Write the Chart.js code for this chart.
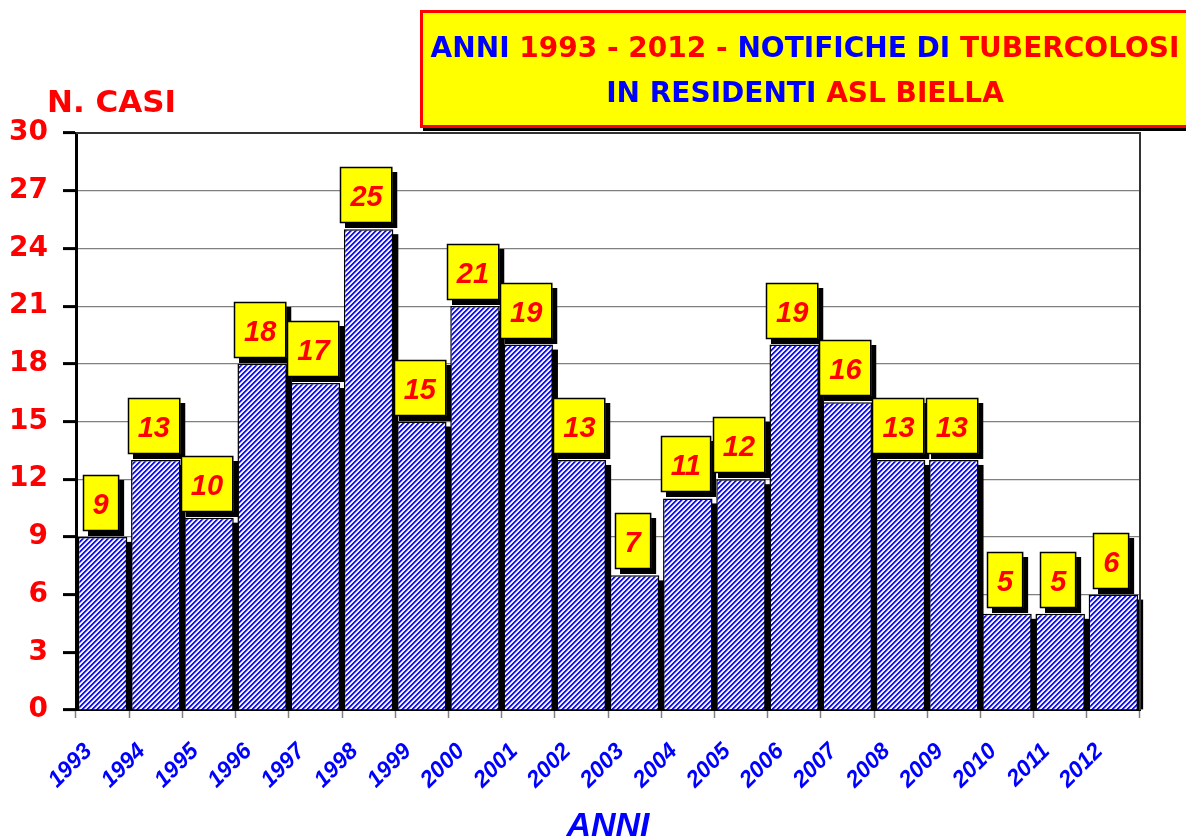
<!DOCTYPE html>
<html>
<head>
<meta charset="utf-8">
<title>Notifiche di tubercolosi ASL Biella</title>
<script src="https://cdn.jsdelivr.net/npm/chart.js@4/dist/chart.umd.min.js"></script>
<style>
  html, body { margin: 0; padding: 0; background: #fff; }
  canvas { display: block; }
</style>
</head>
<body>
<canvas id="tbcChart" width="1186" height="840"></canvas>
<script>
// Notified cases per year
const anni = ['1993', '1994', '1995', '1996', '1997', '1998', '1999', '2000', '2001', '2002',
              '2003', '2004', '2005', '2006', '2007', '2008', '2009', '2010', '2011', '2012'];
const casi = [9, 13, 10, 18, 17, 25, 15, 21, 19, 13, 7, 11, 12, 19, 16, 13, 13, 5, 5, 6];
const yMax = 30;
const yStep = 3;

// Title lines, split in coloured pieces
const titleLine1 = [['ANNI ', '#0000ff'], ['1993 - 2012 - ', '#ff0000'], ['NOTIFICHE DI ', '#0000ff'], ['TUBERCOLOSI', '#ff0000']];
const titleLine2 = [['IN RESIDENTI ', '#0000ff'], ['ASL BIELLA', '#ff0000']];

const RED = '#ff0000';
const BLUE = '#0000ff';

// Diagonal blue hatch used to fill the bars
function makeHatch(ctx) {
  const size = 5;
  const c = document.createElement('canvas');
  c.width = size; c.height = size;
  const g = c.getContext('2d');
  const img = g.createImageData(size, size);
  const shades = [[20, 20, 235], [20, 20, 235], [140, 140, 255], [255, 255, 255], [225, 225, 255]];
  for (let y = 0; y < size; y++) {
    for (let x = 0; x < size; x++) {
      const s = shades[(x + y) % size];
      const i = (y * size + x) * 4;
      img.data[i] = s[0]; img.data[i + 1] = s[1]; img.data[i + 2] = s[2]; img.data[i + 3] = 255;
    }
  }
  g.putImageData(img, 0, 0);
  return ctx.createPattern(c, 'repeat');
}

// Black drop shadow behind every bar
const barShadows = {
  id: 'barShadows',
  beforeDatasetsDraw(chart) {
    const ctx = chart.ctx;
    ctx.save();
    ctx.fillStyle = '#000';
    chart.getDatasetMeta(0).data.forEach(bar => {
      const left = bar.x - bar.width / 2;
      ctx.fillRect(left + 5, bar.y + 5, bar.width, bar.base - bar.y - 5);
    });
    ctx.restore();
  }
};

// Yellow value boxes above the bars
const valueBoxes = {
  id: 'valueBoxes',
  afterDatasetsDraw(chart) {
    const ctx = chart.ctx;
    const vals = chart.data.datasets[0].data;
    ctx.save();
    ctx.font = 'italic bold 29px "Liberation Sans", Arial, sans-serif';
    ctx.textAlign = 'center';
    ctx.textBaseline = 'alphabetic';
    chart.getDatasetMeta(0).data.forEach((bar, i) => {
      const txt = String(vals[i]);
      const w = ctx.measureText(txt).width + 20;
      const h = 56;
      const cx = bar.x - 2;
      const bottom = bar.y - 6;
      const left = Math.round(cx - w / 2);
      const top = Math.round(bottom - h);
      ctx.fillStyle = '#000';
      ctx.fillRect(left + 5, top + 5, w, h);
      ctx.fillStyle = '#ffff00';
      ctx.fillRect(left, top, w, h);
      ctx.strokeStyle = '#000';
      ctx.lineWidth = 1.5;
      ctx.strokeRect(left + 0.5, top + 0.5, w - 1, h - 1);
      ctx.fillStyle = RED;
      ctx.fillText(txt, cx, top + h / 2 + 10.5);
    });
    ctx.restore();
  }
};

function drawPieces(ctx, pieces, cx, y) {
  const total = pieces.reduce((s, p) => s + ctx.measureText(p[0]).width, 0);
  let x = cx - total / 2;
  ctx.textAlign = 'left';
  pieces.forEach(([txt, col]) => {
    ctx.fillStyle = col;
    ctx.fillText(txt, x, y);
    x += ctx.measureText(txt).width;
  });
}

// Title box, axis titles and plot frame
const decorations = {
  id: 'decorations',
  afterDraw(chart) {
    const ctx = chart.ctx;
    const area = chart.chartArea;
    ctx.save();

    // frame on top and right of the plot
    ctx.strokeStyle = '#333';
    ctx.lineWidth = 2;
    ctx.beginPath();
    ctx.moveTo(area.left, area.top);
    ctx.lineTo(area.right, area.top);
    ctx.lineTo(area.right, area.bottom);
    ctx.stroke();

    // title box
    const bx = 420, by = 10, bw = 775, bh = 118;
    ctx.fillStyle = '#000';
    ctx.fillRect(bx + 3, by + 3, bw, bh);
    ctx.fillStyle = '#ffff00';
    ctx.fillRect(bx, by, bw, bh);
    ctx.strokeStyle = RED;
    ctx.lineWidth = 3;
    ctx.strokeRect(bx + 1.5, by + 1.5, bw - 3, bh - 3);

    ctx.font = 'bold 28px "DejaVu Sans", sans-serif';
    ctx.textBaseline = 'alphabetic';
    drawPieces(ctx, titleLine1, 805, 57);
    drawPieces(ctx, titleLine2, 805, 102);

    // y axis title
    ctx.font = 'bold 31px "DejaVu Sans", sans-serif';
    ctx.fillStyle = RED;
    ctx.textAlign = 'left';
    ctx.fillText('N. CASI', 47, 112);

    // x axis title
    ctx.font = 'italic bold 34px "Liberation Sans", Arial, sans-serif';
    ctx.fillStyle = BLUE;
    ctx.textAlign = 'center';
    ctx.fillText('ANNI', (area.left + area.right) / 2, 836);

    ctx.restore();
  }
};

const canvas = document.getElementById('tbcChart');
const ctx = canvas.getContext('2d');

new Chart(ctx, {
  type: 'bar',
  data: {
    labels: anni,
    datasets: [{
      data: casi,
      backgroundColor: makeHatch(ctx),
      borderColor: '#000',
      borderWidth: 1.5,
      barPercentage: 0.93,
      categoryPercentage: 1.0
    }]
  },
  options: {
    responsive: false,
    animation: false,
    devicePixelRatio: 1,
    layout: { padding: { top: 133, right: 46, left: 0, bottom: 0 } },
    plugins: {
      legend: { display: false },
      tooltip: { enabled: false }
    },
    scales: {
      x: {
        afterFit(scale) { scale.height = 130; },
        grid: {
          display: true,
          drawOnChartArea: false,
          drawTicks: true,
          tickLength: 8,
          tickColor: '#808080',
          tickWidth: 1.5,
          offset: true
        },
        border: { display: true, color: '#000', width: 2 },
        ticks: {
          autoSkip: false,
          minRotation: 45,
          maxRotation: 45,
          color: BLUE,
          padding: 20,
          labelOffset: -14,
          font: { family: '"Liberation Sans", Arial, sans-serif', size: 23, style: 'italic', weight: 'bold' }
        }
      },
      y: {
        min: 0,
        max: yMax,
        afterFit(scale) { scale.width = 76; },
        grid: {
          color: '#808080',
          lineWidth: 1.2,
          drawTicks: true,
          tickLength: 13,
          tickColor: '#000',
          tickWidth: 3
        },
        border: { display: true, color: '#000', width: 3 },
        ticks: {
          stepSize: yStep,
          color: RED,
          padding: 15,
          font: { family: '"DejaVu Sans", sans-serif', size: 28, weight: 'bold' }
        }
      }
    }
  },
  plugins: [barShadows, valueBoxes, decorations]
});
</script>
</body>
</html>
